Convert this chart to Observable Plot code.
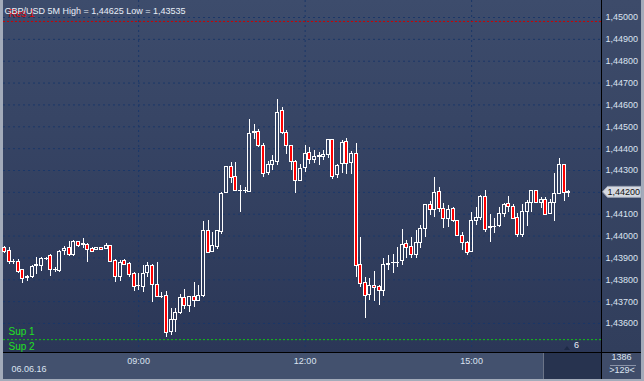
<!DOCTYPE html>
<html><head><meta charset="utf-8">
<script src="https://cdn.jsdelivr.net/npm/d3@7"></script>
<script src="https://cdn.jsdelivr.net/npm/@observablehq/plot@0.6"></script>
<style>
html,body{margin:0;padding:0;background:#a3abba;}
#wrap{position:relative;width:644px;height:381px;overflow:hidden;background:#a3abba;}
.layer{position:absolute;}
</style></head><body>
<div id="wrap">
 <div class="layer" style="left:3px;top:0;width:598px;height:352px;background:linear-gradient(#3d4c6c,#2b3757)"></div>
 <div class="layer" style="left:602px;top:0;width:39px;height:352px;background:linear-gradient(#3d4b6a,#313e5c)"></div>
 <div class="layer" style="left:3px;top:353px;width:598px;height:26px;background:#43516e"></div>
 <div class="layer" style="left:543px;top:353px;width:58px;height:26px;background:#27334f;border-left:1px solid #6b7488"></div>
 <div class="layer" style="left:602px;top:353px;width:39px;height:26px;background:#3f4c69"></div>
 <div class="layer" style="left:3px;top:352px;width:638px;height:1px;background:#000"></div>
 <div class="layer" style="left:601px;top:0;width:1px;height:379px;background:#000"></div>
 <div id="chart" class="layer" style="left:0;top:0"></div>
</div>
<script>
// ---- data (GBP/USD, 5-minute candles, 06.06.16 from 06:35) ----
const symbol = "GBP/USD 5M";
const dateLabel = "06.06.16";
const startTime = "2016-06-06T06:35:00Z";
const barMinutes = 5;
const open = [1.43946,1.43930,1.43881,1.43881,1.43843,1.43806,1.43813,1.43865,1.43864,1.43893,
1.43907,1.43847,1.43839,1.43930,1.43945,1.43915,1.43971,1.43959,1.43960,1.43942,
1.43934,1.43947,1.43942,1.43953,1.43884,1.43812,1.43884,1.43873,1.43826,1.43770,
1.43766,1.43831,1.43865,1.43777,1.43720,1.43724,1.43560,1.43614,1.43647,1.43718,
1.43681,1.43720,1.43702,1.43725,1.44025,1.43926,1.43949,1.44018,1.44198,1.44318,
1.44271,1.44208,1.44206,1.44201,1.44471,1.44477,1.44414,1.44289,1.44326,1.44340,
1.44570,1.44473,1.44413,1.44337,1.44251,1.44312,1.44379,1.44346,1.44364,1.44364,
1.44372,1.44441,1.44280,1.44328,1.44430,1.44333,1.44376,1.43869,1.43786,1.43731,
1.43773,1.43765,1.43750,1.43869,1.43875,1.43877,1.43884,1.43965,1.43952,1.43915,
1.43969,1.44033,1.44143,1.44120,1.44201,1.44123,1.44076,1.44125,1.44067,1.44001,
1.43969,1.43928,1.44071,1.44083,1.44181,1.44039,1.44041,1.44045,1.44102,1.44148,
1.44132,1.44082,1.44006,1.44112,1.44152,1.44204,1.44152,1.44166,1.44102,1.44150,
1.44193,1.44323,1.44198];
const high = [1.43950,1.43946,1.43893,1.43891,1.43847,1.43820,1.43865,1.43900,1.43902,1.43903,
1.43917,1.43857,1.43932,1.43950,1.43975,1.43980,1.43977,1.43988,1.43965,1.43946,
1.43948,1.43949,1.43965,1.43957,1.43893,1.43888,1.43893,1.43879,1.43833,1.43831,
1.43867,1.43877,1.43870,1.43877,1.43744,1.43747,1.43667,1.43667,1.43733,1.43754,
1.43724,1.43786,1.43774,1.44068,1.44071,1.44018,1.44025,1.44200,1.44318,1.44338,
1.44338,1.44231,1.44224,1.44533,1.44511,1.44488,1.44422,1.44343,1.44369,1.44625,
1.44590,1.44483,1.44414,1.44346,1.44328,1.44414,1.44404,1.44392,1.44384,1.44392,
1.44443,1.44443,1.44328,1.44437,1.44448,1.44387,1.44422,1.43992,1.43812,1.43805,
1.43838,1.43773,1.43899,1.43910,1.43914,1.43948,1.44030,1.43980,1.43995,1.44025,
1.44048,1.44144,1.44158,1.44269,1.44224,1.44148,1.44140,1.44131,1.44071,1.44016,
1.43975,1.44109,1.44132,1.44186,1.44208,1.44099,1.44079,1.44130,1.44150,1.44181,
1.44143,1.44102,1.44144,1.44163,1.44207,1.44207,1.44178,1.44178,1.44167,1.44285,
1.44353,1.44323,1.44208];
const low = [1.43921,1.43870,1.43870,1.43831,1.43785,1.43790,1.43804,1.43825,1.43840,1.43888,
1.43816,1.43832,1.43833,1.43911,1.43907,1.43908,1.43949,1.43942,1.43878,1.43925,
1.43932,1.43934,1.43939,1.43879,1.43789,1.43790,1.43865,1.43812,1.43747,1.43751,
1.43743,1.43809,1.43697,1.43717,1.43713,1.43535,1.43545,1.43560,1.43641,1.43663,
1.43652,1.43672,1.43700,1.43719,1.43920,1.43925,1.43937,1.44007,1.44196,1.44239,
1.44204,1.44109,1.44193,1.44200,1.44442,1.44404,1.44267,1.44277,1.44300,1.44323,
1.44465,1.44373,1.44300,1.44196,1.44250,1.44292,1.44328,1.44331,1.44323,1.44346,
1.44356,1.44258,1.44262,1.44285,1.44280,1.44280,1.43812,1.43766,1.43624,1.43705,
1.43702,1.43682,1.43725,1.43843,1.43827,1.43855,1.43864,1.43896,1.43896,1.43896,
1.43942,1.43995,1.44094,1.44084,1.44107,1.44036,1.44039,1.44064,1.43998,1.43934,
1.43911,1.43925,1.44049,1.44071,1.44015,1.43972,1.44013,1.44041,1.44084,1.44109,
1.44076,1.43992,1.43992,1.44044,1.44109,1.44150,1.44128,1.44096,1.44099,1.44068,
1.44193,1.44160,1.44178];
const close = [1.43925,1.43881,1.43880,1.43836,1.43804,1.43813,1.43858,1.43867,1.43894,1.43895,
1.43846,1.43845,1.43926,1.43942,1.43915,1.43971,1.43953,1.43962,1.43937,1.43928,
1.43947,1.43937,1.43953,1.43880,1.43812,1.43879,1.43869,1.43823,1.43768,1.43772,
1.43827,1.43865,1.43777,1.43720,1.43719,1.43557,1.43617,1.43647,1.43718,1.43681,
1.43720,1.43704,1.43728,1.44025,1.43922,1.43953,1.44021,1.44193,1.44314,1.44265,
1.44205,1.44207,1.44205,1.44468,1.44474,1.44413,1.44285,1.44323,1.44343,1.44564,
1.44473,1.44413,1.44337,1.44250,1.44308,1.44376,1.44346,1.44364,1.44366,1.44372,
1.44441,1.44269,1.44322,1.44427,1.44331,1.44376,1.43862,1.43782,1.43725,1.43773,
1.43764,1.43750,1.43869,1.43870,1.43876,1.43879,1.43960,1.43946,1.43915,1.43969,
1.44033,1.44143,1.44120,1.44198,1.44125,1.44079,1.44120,1.44067,1.43999,1.43967,
1.43923,1.44071,1.44083,1.44181,1.44030,1.44041,1.44042,1.44102,1.44143,1.44132,
1.44079,1.44006,1.44112,1.44152,1.44204,1.44152,1.44167,1.44097,1.44150,1.44193,
1.44323,1.44198,1.44200];
const yTicks = [1.436,1.437,1.438,1.439,1.440,1.441,1.442,1.443,1.444,1.445,1.446,1.447,1.448,1.449,1.450];
const xTickTimes = ["2016-06-06T09:00:00Z","2016-06-06T12:00:00Z","2016-06-06T15:00:00Z"];
const resLevels = [1.44982];
const resLabels = ["Res 1"];
const supLevels = [1.43526];
const supLabels = ["Sup 1","Sup 2"];
const visibleBars = 129;
const barCount = 1386;
const shiftValue = "6";

// ---- build ----
const t0 = Date.parse(startTime);
const step = barMinutes * 60000;
const bars = open.map((o, i) => ({t: new Date(t0 + i*step), open: o, high: high[i], low: low[i], close: close[i]}));
const half = step * 1.5 / 4.625;
const fmt = v => v.toFixed(5).replace(".", ",");
const xDomain = [new Date(t0 - 0.216*step), new Date(t0 + 129.08*step)];
const yDomain = [1.434673, 1.450778];
const title = `${symbol} High = ${fmt(d3.max(high))} Low = ${fmt(d3.min(low))}`;
const one = [0];
const font = "Liberation Sans, Arial, sans-serif";
const lastClose = close[close.length - 1];

const plot = Plot.plot({
  width: 644, height: 381,
  marginLeft: 3, marginRight: 43, marginTop: 0, marginBottom: 29,
  style: {background: "transparent", color: "#dbe3f0", fontFamily: font, fontSize: "9px", overflow: "visible"},
  x: {type: "utc", domain: xDomain},
  y: {domain: yDomain},
  marks: [
    Plot.gridY({ticks: yTicks, stroke: "#1b3768", strokeOpacity: 1, strokeDasharray: "2,3"}),
    Plot.gridX({ticks: xTickTimes.map(s => new Date(s)), stroke: "#1b3768", strokeOpacity: 1, strokeDasharray: "2,3"}),
    Plot.ruleY(resLevels, {stroke: "#d00000", strokeDasharray: "2,2"}),
    Plot.ruleY(supLevels, {stroke: "#12c812", strokeDasharray: "2,2"}),
    Plot.ruleX(bars, {x: "t", y1: "high", y2: d => Math.max(d.open, d.close), stroke: "#fff", shapeRendering: "crispEdges"}),
    Plot.ruleX(bars, {x: "t", y1: "low", y2: d => Math.min(d.open, d.close), stroke: "#fff", shapeRendering: "crispEdges"}),
    Plot.rect(bars, {x1: d => new Date(+d.t - half), x2: d => new Date(+d.t + half), y1: "open", y2: "close",
      fill: d => d.close < d.open ? "#ff0000" : "none", stroke: "#fff", strokeWidth: 1, shapeRendering: "crispEdges"}),
    Plot.axisY({ticks: yTicks.filter(v => Math.abs(v - lastClose) > 0.0004), anchor: "right", tickSize: 0, tickPadding: 4, tickFormat: fmt, label: null, fontSize: 9}),
    Plot.axisX({ticks: xTickTimes.map(s => new Date(s)), anchor: "bottom", tickSize: 0, tickPadding: 5, tickFormat: d3.utcFormat("%H:%M"), label: null, fontSize: 9}),
    Plot.text(resLevels, {y: d => d, frameAnchor: "left", textAnchor: "start", dx: 5, dy: -7.5, text: (d, i) => resLabels[i], fill: "#e00000", fontSize: 10}),
    Plot.text(one, {frameAnchor: "top-left", textAnchor: "start", dx: 1, dy: 7, text: () => title, fill: "#e8eef8", fontSize: 9}),
    Plot.text(supLevels, {y: d => d, frameAnchor: "left", textAnchor: "start", dx: 5, dy: -8, text: () => supLabels[0], fill: "#22e022", fontSize: 10}),
    Plot.text(supLevels, {y: d => d, frameAnchor: "left", textAnchor: "start", dx: 5, dy: 7, text: () => supLabels[1], fill: "#22e022", fontSize: 10}),
    Plot.text(one, {frameAnchor: "bottom-left", textAnchor: "start", dx: 8, dy: 19.5, text: () => dateLabel, fill: "#dbe3f0", fontSize: 9}),
    Plot.text(one, {frameAnchor: "bottom-right", textAnchor: "middle", dx: -25, dy: -5, text: () => shiftValue, fill: "#e8eef8", fontSize: 9}),
    Plot.text(one, {frameAnchor: "bottom-right", textAnchor: "middle", dx: 20, dy: 7, text: () => String(barCount), fill: "#dbe3f0", fontSize: 9}),
    Plot.text(one, {frameAnchor: "bottom-right", textAnchor: "middle", dx: 20.5, dy: 20.5, text: () => `>${visibleBars}<`, fill: "#dbe3f0", fontSize: 9}),
    // current price marker on the price axis
    Plot.text([lastClose], {y: d => d, frameAnchor: "right", textAnchor: "start", dx: 6, text: d => fmt(d), fill: "#111", fontSize: 9})
  ]
});
document.getElementById("chart").appendChild(plot);

// marker box behind the current-price text, separator under bar count
const svg = d3.select(plot);
const yp = plot.scale("y").apply(lastClose);
svg.insert("path", ":scope > g:last-of-type")
  .attr("d", `M602.5,${yp} L607.5,${yp-5.5} L641,${yp-5.5} L641,${yp+5.5} L607.5,${yp+5.5} Z`)
  .style("fill", "#d5d9e1").style("stroke", "#9aa2b2");
svg.append("line").attr("x1", 610).attr("x2", 636).attr("y1", 365.5).attr("y2", 365.5).style("stroke", "#8a93a8");
svg.append("path").attr("d", "M564,350 L567,346 L570,350 Z").style("fill", "#1e2a46");
</script>
</body></html>
